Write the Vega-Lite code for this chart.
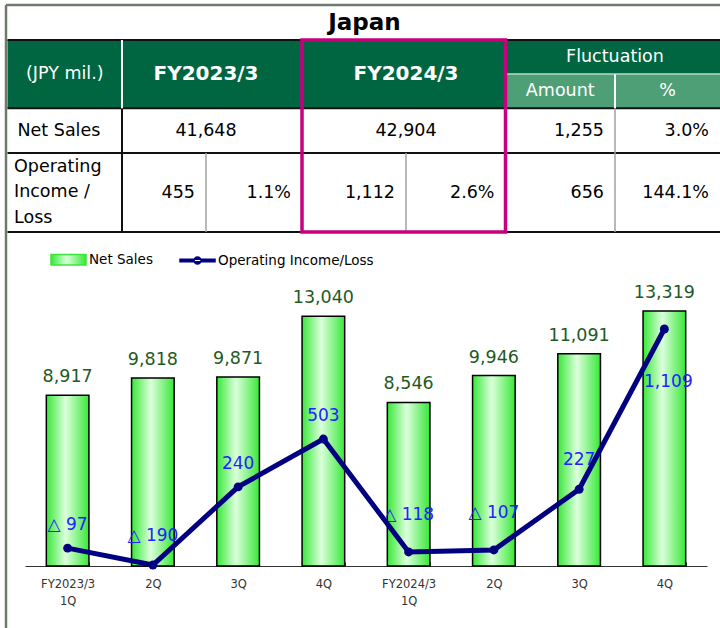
{
  "$schema": "https://vega.github.io/schema/vega-lite/v6.json",
  "width": 720,
  "height": 566,
  "autosize": {"type": "none"},
  "padding": {"left": 0, "top": 0, "right": 0, "bottom": 62},
  "background": "#ffffff",
  "config": {"view": {"stroke": null}, "font": "DejaVu Sans"},
  "datasets": {
    "cells": [
      {"c0": 1, "c1": 8, "r0": 1, "r1": 3, "kind": "header"},
      {"c0": 6, "c1": 8, "r0": 2, "r1": 3, "kind": "sub"}
    ],
    "lines": [
      {"c0": 0, "c1": 8, "r0": 0, "r1": 0, "kind": "frame"},
      {"c0": 0, "c1": 0, "r0": 0, "r1": 6, "kind": "frame"},
      {"c0": 1, "c1": 8, "r0": 1, "r1": 1, "kind": "border"},
      {"c0": 1, "c1": 8, "r0": 3, "r1": 3, "kind": "border"},
      {"c0": 1, "c1": 8, "r0": 4, "r1": 4, "kind": "border"},
      {"c0": 1, "c1": 8, "r0": 5, "r1": 5, "kind": "border"},
      {"c0": 2, "c1": 2, "r0": 3, "r1": 5, "kind": "border"},
      {"c0": 2, "c1": 2, "r0": 1, "r1": 3, "kind": "white"},
      {"c0": 7, "c1": 7, "r0": 2, "r1": 3, "kind": "white"},
      {"c0": 6, "c1": 8, "r0": 2, "r1": 2, "kind": "light"},
      {"c0": 3, "c1": 3, "r0": 4, "r1": 5, "kind": "inner"},
      {"c0": 5, "c1": 5, "r0": 4, "r1": 5, "kind": "inner"},
      {"c0": 7, "c1": 7, "r0": 3, "r1": 5, "kind": "inner"}
    ],
    "box": [{"c0": 4, "c1": 6, "r0": 1, "r1": 5}],
    "ttext": [
      {"t": "Japan", "x": 4.6, "y": 0.5, "role": "title"},
      {"t": "(JPY mil.)", "x": 1.5, "y": 2, "role": "hreg"},
      {"t": "FY2023/3", "x": 3, "y": 2, "role": "hbold"},
      {"t": "FY2024/3", "x": 5, "y": 2, "role": "hbold"},
      {"t": "Fluctuation", "x": 7, "y": 1.5, "role": "hreg"},
      {"t": "Amount", "x": 6.5, "y": 2.5, "role": "hreg"},
      {"t": "%", "x": 7.5, "y": 2.5, "role": "hreg"},
      {"t": "Net Sales", "x": 1, "y": 3.5, "role": "left"},
      {"t": ["Operating", "Income /", "Loss"], "x": 1, "y": 4.5, "role": "leftmulti"},
      {"t": "41,648", "x": 3, "y": 3.5, "role": "center"},
      {"t": "42,904", "x": 5, "y": 3.5, "role": "center"},
      {"t": "1,255", "x": 7, "y": 3.5, "role": "right"},
      {"t": "3.0%", "x": 8, "y": 3.5, "role": "right"},
      {"t": "455", "x": 3, "y": 4.5, "role": "right"},
      {"t": "1.1%", "x": 4, "y": 4.5, "role": "right"},
      {"t": "1,112", "x": 5, "y": 4.5, "role": "right"},
      {"t": "2.6%", "x": 6, "y": 4.5, "role": "right"},
      {"t": "656", "x": 7, "y": 4.5, "role": "right"},
      {"t": "144.1%", "x": 8, "y": 4.5, "role": "right"}
    ],
    "quarters": [
      {"q": "FY2023/3 1Q", "sales": 8917, "oi": -97, "oiLabel": "△ 97"},
      {"q": "FY2023/3 2Q", "sales": 9818, "oi": -190, "oiLabel": "△ 190"},
      {"q": "FY2023/3 3Q", "sales": 9871, "oi": 240, "oiLabel": "240"},
      {"q": "FY2023/3 4Q", "sales": 13040, "oi": 503, "oiLabel": "503"},
      {"q": "FY2024/3 1Q", "sales": 8546, "oi": -118, "oiLabel": "△ 118"},
      {"q": "FY2024/3 2Q", "sales": 9946, "oi": -107, "oiLabel": "△ 107"},
      {"q": "FY2024/3 3Q", "sales": 11091, "oi": 227, "oiLabel": "227"},
      {"q": "FY2024/3 4Q", "sales": 13319, "oi": 1109, "oiLabel": "1,109"}
    ]
  },
  "layer": [
    {
      "layer": [
        {
          "data": {"name": "cells"},
          "mark": {"type": "rect"},
          "encoding": {
            "x": {"field": "c0", "type": "quantitative", "axis": null, "scale": {"domain": [0, 1, 2, 3, 4, 5, 6, 7, 8], "range": [6, 7.5, 122, 206, 302, 406, 505.5, 615, 720], "nice": false, "zero": false}},
            "x2": {"field": "c1"},
            "y": {"field": "r0", "type": "quantitative", "axis": null, "scale": {"domain": [0, 1, 2, 3, 4, 5, 6], "range": [5, 40, 74, 108.3, 153, 232, 628], "nice": false, "zero": false}},
            "y2": {"field": "r1"},
            "color": {"field": "kind", "type": "nominal", "legend": null, "scale": {"domain": ["header", "sub", "frame", "border", "white", "light", "inner"], "range": ["#006641", "#4f9f76", "#6d7a6d", "#111111", "#ffffff", "#b5dcc6", "#a0a0a0"]}}
          }
        },
        {
          "data": {"name": "lines"},
          "mark": {"type": "rule"},
          "encoding": {
            "x": {"field": "c0", "type": "quantitative", "axis": null, "scale": {"domain": [0, 1, 2, 3, 4, 5, 6, 7, 8], "range": [6, 7.5, 122, 206, 302, 406, 505.5, 615, 720], "nice": false, "zero": false}},
            "x2": {"field": "c1"},
            "y": {"field": "r0", "type": "quantitative", "axis": null, "scale": {"domain": [0, 1, 2, 3, 4, 5, 6], "range": [5, 40, 74, 108.3, 153, 232, 628], "nice": false, "zero": false}},
            "y2": {"field": "r1"},
            "color": {"field": "kind", "type": "nominal", "legend": null, "scale": {"domain": ["header", "sub", "frame", "border", "white", "light", "inner"], "range": ["#006641", "#4f9f76", "#6d7a6d", "#111111", "#ffffff", "#b5dcc6", "#a0a0a0"]}},
            "strokeWidth": {"field": "kind", "type": "nominal", "legend": null, "scale": {"type": "ordinal", "domain": ["frame", "border", "white", "light", "inner"], "range": [2.5, 2, 2, 1.5, 1.5]}}
          }
        },
        {
          "data": {"name": "box"},
          "mark": {"type": "rect", "filled": false, "color": "#c8007f", "strokeWidth": 3.5},
          "encoding": {
            "x": {"field": "c0", "type": "quantitative", "axis": null, "scale": {"domain": [0, 1, 2, 3, 4, 5, 6, 7, 8], "range": [6, 7.5, 122, 206, 302, 406, 505.5, 615, 720], "nice": false, "zero": false}},
            "x2": {"field": "c1"},
            "y": {"field": "r0", "type": "quantitative", "axis": null, "scale": {"domain": [0, 1, 2, 3, 4, 5, 6], "range": [5, 40, 74, 108.3, 153, 232, 628], "nice": false, "zero": false}},
            "y2": {"field": "r1"}
          }
        },
        {
          "data": {"name": "ttext"},
          "transform": [{"filter": "datum.role === 'title'"}],
          "mark": {"type": "text", "font": "DejaVu Sans", "fontSize": 23, "fontWeight": "bold", "color": "#000000", "align": "center", "baseline": "middle"},
          "encoding": {
            "x": {"field": "x", "type": "quantitative", "axis": null, "scale": {"domain": [0, 1, 2, 3, 4, 5, 6, 7, 8], "range": [6, 7.5, 122, 206, 302, 406, 505.5, 615, 720], "nice": false, "zero": false}},
            "y": {"field": "y", "type": "quantitative", "axis": null, "scale": {"domain": [0, 1, 2, 3, 4, 5, 6], "range": [5, 40, 74, 108.3, 153, 232, 628], "nice": false, "zero": false}},
            "text": {"field": "t", "type": "nominal"}
          }
        },
        {
          "data": {"name": "ttext"},
          "transform": [{"filter": "datum.role === 'hbold'"}],
          "mark": {"type": "text", "font": "DejaVu Sans", "fontSize": 20, "fontWeight": "bold", "color": "#ffffff", "align": "center", "baseline": "middle"},
          "encoding": {
            "x": {"field": "x", "type": "quantitative", "axis": null, "scale": {"domain": [0, 1, 2, 3, 4, 5, 6, 7, 8], "range": [6, 7.5, 122, 206, 302, 406, 505.5, 615, 720], "nice": false, "zero": false}},
            "y": {"field": "y", "type": "quantitative", "axis": null, "scale": {"domain": [0, 1, 2, 3, 4, 5, 6], "range": [5, 40, 74, 108.3, 153, 232, 628], "nice": false, "zero": false}},
            "text": {"field": "t", "type": "nominal"}
          }
        },
        {
          "data": {"name": "ttext"},
          "transform": [{"filter": "datum.role === 'hreg'"}],
          "mark": {"type": "text", "font": "DejaVu Sans", "fontSize": 17.5, "color": "#ffffff", "align": "center", "baseline": "middle"},
          "encoding": {
            "x": {"field": "x", "type": "quantitative", "axis": null, "scale": {"domain": [0, 1, 2, 3, 4, 5, 6, 7, 8], "range": [6, 7.5, 122, 206, 302, 406, 505.5, 615, 720], "nice": false, "zero": false}},
            "y": {"field": "y", "type": "quantitative", "axis": null, "scale": {"domain": [0, 1, 2, 3, 4, 5, 6], "range": [5, 40, 74, 108.3, 153, 232, 628], "nice": false, "zero": false}},
            "text": {"field": "t", "type": "nominal"}
          }
        },
        {
          "data": {"name": "ttext"},
          "transform": [{"filter": "datum.role === 'center'"}],
          "mark": {"type": "text", "font": "DejaVu Sans", "fontSize": 17.5, "color": "#000000", "align": "center", "baseline": "middle"},
          "encoding": {
            "x": {"field": "x", "type": "quantitative", "axis": null, "scale": {"domain": [0, 1, 2, 3, 4, 5, 6, 7, 8], "range": [6, 7.5, 122, 206, 302, 406, 505.5, 615, 720], "nice": false, "zero": false}},
            "y": {"field": "y", "type": "quantitative", "axis": null, "scale": {"domain": [0, 1, 2, 3, 4, 5, 6], "range": [5, 40, 74, 108.3, 153, 232, 628], "nice": false, "zero": false}},
            "text": {"field": "t", "type": "nominal"}
          }
        },
        {
          "data": {"name": "ttext"},
          "transform": [{"filter": "datum.role === 'right'"}],
          "mark": {"type": "text", "font": "DejaVu Sans", "fontSize": 17.5, "color": "#000000", "align": "right", "baseline": "middle", "dx": -11},
          "encoding": {
            "x": {"field": "x", "type": "quantitative", "axis": null, "scale": {"domain": [0, 1, 2, 3, 4, 5, 6, 7, 8], "range": [6, 7.5, 122, 206, 302, 406, 505.5, 615, 720], "nice": false, "zero": false}},
            "y": {"field": "y", "type": "quantitative", "axis": null, "scale": {"domain": [0, 1, 2, 3, 4, 5, 6], "range": [5, 40, 74, 108.3, 153, 232, 628], "nice": false, "zero": false}},
            "text": {"field": "t", "type": "nominal"}
          }
        },
        {
          "data": {"name": "ttext"},
          "transform": [{"filter": "datum.role === 'left'"}],
          "mark": {"type": "text", "font": "DejaVu Sans", "fontSize": 17.5, "color": "#000000", "align": "left", "baseline": "middle", "dx": 10},
          "encoding": {
            "x": {"field": "x", "type": "quantitative", "axis": null, "scale": {"domain": [0, 1, 2, 3, 4, 5, 6, 7, 8], "range": [6, 7.5, 122, 206, 302, 406, 505.5, 615, 720], "nice": false, "zero": false}},
            "y": {"field": "y", "type": "quantitative", "axis": null, "scale": {"domain": [0, 1, 2, 3, 4, 5, 6], "range": [5, 40, 74, 108.3, 153, 232, 628], "nice": false, "zero": false}},
            "text": {"field": "t", "type": "nominal"}
          }
        },
        {
          "data": {"name": "ttext"},
          "transform": [{"filter": "datum.role === 'leftmulti'"}],
          "mark": {"type": "text", "font": "DejaVu Sans", "fontSize": 17.5, "color": "#000000", "align": "left", "baseline": "middle", "dx": 6.5, "dy": -25.7, "lineHeight": 25.7},
          "encoding": {
            "x": {"field": "x", "type": "quantitative", "axis": null, "scale": {"domain": [0, 1, 2, 3, 4, 5, 6, 7, 8], "range": [6, 7.5, 122, 206, 302, 406, 505.5, 615, 720], "nice": false, "zero": false}},
            "y": {"field": "y", "type": "quantitative", "axis": null, "scale": {"domain": [0, 1, 2, 3, 4, 5, 6], "range": [5, 40, 74, 108.3, 153, 232, 628], "nice": false, "zero": false}},
            "text": {"field": "t", "type": "nominal"}
          }
        }
      ]
    },
    {
      "data": {"name": "quarters"},
      "layer": [
        {
          "layer": [
            {
              "mark": {"type": "bar", "stroke": "#000000", "strokeWidth": 1.5, "color": {"gradient": "linear", "x1": 0, "y1": 0, "x2": 1, "y2": 0, "stops": [{"offset": 0, "color": "#38e838"}, {"offset": 0.45, "color": "#dcffdc"}, {"offset": 1, "color": "#38e838"}]}},
              "encoding": {
                "x": {"field": "q", "type": "nominal", "sort": null, "scale": {"range": [25, 707], "paddingInner": 0.5, "paddingOuter": 0.25},
                  "axis": {"orient": "bottom", "title": null, "labelAngle": 0, "grid": false, "domainColor": "#333333", "domainWidth": 1, "tickColor": "#333333", "tickSize": -4, "tickBand": "extent", "labelFont": "DejaVu Sans", "labelFontSize": 11.5, "labelColor": "#333333", "labelPadding": 16.5, "labelLineHeight": 17, "labelBaseline": "top", "labelOverlap": false, "labelExpr": "slice(datum.label, 9) === '1Q' ? [slice(datum.label, 0, 8), '1Q'] : slice(datum.label, 9)"}},
                "y": {"field": "sales", "type": "quantitative", "axis": null, "scale": {"domain": [0, 13319], "range": [566, 311], "nice": false, "zero": true}}
              }
            },
            {
              "mark": {"type": "text", "font": "DejaVu Sans", "fontSize": 17.5, "color": "#1f5a1f", "baseline": "alphabetic", "dy": -13},
              "encoding": {
                "x": {"field": "q", "type": "nominal", "sort": null, "scale": {"range": [25, 707], "paddingInner": 0.5, "paddingOuter": 0.25}},
                "y": {"field": "sales", "type": "quantitative", "axis": null, "scale": {"domain": [0, 13319], "range": [566, 311], "nice": false, "zero": true}},
                "text": {"field": "sales", "type": "quantitative", "format": ","}
              }
            }
          ]
        },
        {
          "layer": [
            {
              "transform": [{"filter": {"field": "q", "oneOf": ["FY2023/3 1Q", "FY2023/3 3Q", "FY2023/3 4Q"]}}],
              "mark": {"type": "text", "font": "DejaVu Sans", "fontSize": 17, "color": "#2222ff", "baseline": "alphabetic", "dy": -18},
              "encoding": {
                "x": {"field": "q", "type": "nominal", "sort": null, "scale": {"range": [25, 707], "paddingInner": 0.5, "paddingOuter": 0.25}},
                "y": {"field": "oi", "type": "quantitative", "axis": null, "scale": {"domain": [-190, 1109], "range": [565, 329], "nice": false, "zero": false}},
                "text": {"field": "oiLabel", "type": "nominal"}
              }
            },
            {
              "transform": [{"filter": {"field": "q", "oneOf": ["FY2023/3 2Q", "FY2024/3 3Q"]}}],
              "mark": {"type": "text", "font": "DejaVu Sans", "fontSize": 17, "color": "#2222ff", "baseline": "alphabetic", "dy": -24},
              "encoding": {
                "x": {"field": "q", "type": "nominal", "sort": null, "scale": {"range": [25, 707], "paddingInner": 0.5, "paddingOuter": 0.25}},
                "y": {"field": "oi", "type": "quantitative", "axis": null, "scale": {"domain": [-190, 1109], "range": [565, 329], "nice": false, "zero": false}},
                "text": {"field": "oiLabel", "type": "nominal"}
              }
            },
            {
              "transform": [{"filter": {"field": "q", "oneOf": ["FY2024/3 1Q", "FY2024/3 2Q"]}}],
              "mark": {"type": "text", "font": "DejaVu Sans", "fontSize": 17, "color": "#2222ff", "baseline": "alphabetic", "dy": -32},
              "encoding": {
                "x": {"field": "q", "type": "nominal", "sort": null, "scale": {"range": [25, 707], "paddingInner": 0.5, "paddingOuter": 0.25}},
                "y": {"field": "oi", "type": "quantitative", "axis": null, "scale": {"domain": [-190, 1109], "range": [565, 329], "nice": false, "zero": false}},
                "text": {"field": "oiLabel", "type": "nominal"}
              }
            },
            {
              "transform": [{"filter": {"field": "q", "oneOf": ["FY2024/3 4Q"]}}],
              "mark": {"type": "text", "font": "DejaVu Sans", "fontSize": 17, "color": "#2222ff", "baseline": "alphabetic", "dy": 58, "dx": 4},
              "encoding": {
                "x": {"field": "q", "type": "nominal", "sort": null, "scale": {"range": [25, 707], "paddingInner": 0.5, "paddingOuter": 0.25}},
                "y": {"field": "oi", "type": "quantitative", "axis": null, "scale": {"domain": [-190, 1109], "range": [565, 329], "nice": false, "zero": false}},
                "text": {"field": "oiLabel", "type": "nominal"}
              }
            },
            {
              "mark": {"type": "line", "strokeWidth": 5},
              "encoding": {
                "x": {"field": "q", "type": "nominal", "sort": null, "scale": {"range": [25, 707], "paddingInner": 0.5, "paddingOuter": 0.25}},
                "y": {"field": "oi", "type": "quantitative", "axis": null, "scale": {"domain": [-190, 1109], "range": [565, 329], "nice": false, "zero": false}},
                "color": {"datum": "Operating Income/Loss", "type": "nominal",
                  "scale": {"domain": ["Net Sales", "Operating Income/Loss"], "range": ["#38e838", "#000080"]},
                  "legend": {"orient": "none", "legendX": 50, "legendY": 241, "direction": "horizontal", "title": null, "padding": 0, "symbolSize": 1225, "symbolType": "M-1,-0.3H1V0.3H-1Z", "symbolStrokeWidth": 1.5, "labelFont": "DejaVu Sans", "labelFontSize": 13.5, "labelColor": "#000000", "labelOffset": 2, "columnPadding": 24,
                    "encode": {"symbols": {"update": {
                      "size": {"value": 1225},
                      "shape": {"signal": "datum.value === 'Net Sales' ? 'M-1,-0.3H1V0.3H-1Z' : 'M-1,-0.07H1V0.07H-1Z M-0.2,0A0.2,0.2 0 1 0 0.2,0A0.2,0.2 0 1 0 -0.2,0Z'"},
                      "fill": {"signal": "datum.value === 'Net Sales' ? {gradient: 'linear', x1: 0, y1: 0, x2: 1, y2: 0, stops: [{offset: 0, color: '#38e838'}, {offset: 0.45, color: '#dcffdc'}, {offset: 1, color: '#38e838'}]} : '#000080'"},
                      "stroke": {"signal": "datum.value === 'Net Sales' ? '#000000' : '#000080'"},
                      "strokeWidth": {"value": 1.5},
                      "opacity": {"value": 1}
                    }}}}}
              }
            },
            {
              "mark": {"type": "point", "filled": true, "size": 80, "color": "#000080", "opacity": 1},
              "encoding": {
                "x": {"field": "q", "type": "nominal", "sort": null, "scale": {"range": [25, 707], "paddingInner": 0.5, "paddingOuter": 0.25}},
                "y": {"field": "oi", "type": "quantitative", "axis": null, "scale": {"domain": [-190, 1109], "range": [565, 329], "nice": false, "zero": false}}
              }
            }
          ]
        }
      ],
      "resolve": {"scale": {"y": "independent"}}
    }
  ],
  "resolve": {"scale": {"x": "independent", "y": "independent", "color": "independent"}}
}
